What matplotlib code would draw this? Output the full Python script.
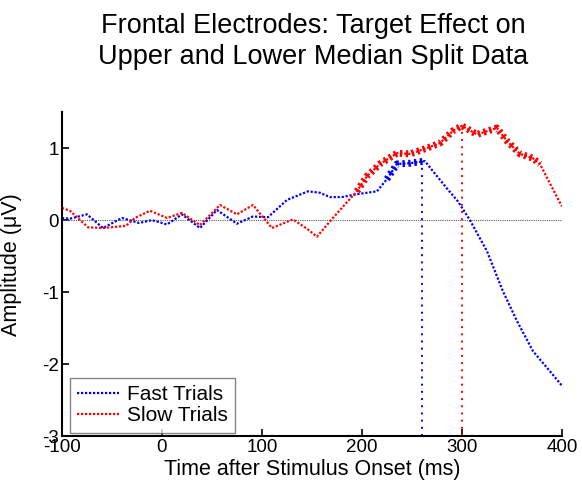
import numpy as np
import matplotlib
matplotlib.use("Agg")
import matplotlib.pyplot as plt

plt.rcParams["font.family"] = ["Liberation Sans", "DejaVu Sans"]
plt.rcParams["axes.unicode_minus"] = False

# Fast trials (blue)
FAST_T = [-100, -92, -75, -59, -40, -23, -10, 5, 20, 38, 55, 75, 91, 106, 125, 146,
          158, 168, 180, 195, 215, 225, 235, 248, 263, 271, 285, 296, 308, 325, 341,
          355, 371, 388, 400]
FAST_V = [0.03, 0.02, 0.08, -0.11, 0.03, -0.04, 0.0, -0.06, 0.08, -0.11, 0.14, -0.05,
          0.05, 0.04, 0.28, 0.40, 0.38, 0.32, 0.32, 0.36, 0.40, 0.57, 0.78, 0.79, 0.82,
          0.68, 0.44, 0.26, 0.0, -0.43, -0.99, -1.40, -1.82, -2.10, -2.30]

# Slow trials (red)
SLOW_T = [-100, -92, -74, -59, -36, -27, -12, 5, 20, 38, 58, 75, 91, 110, 131, 145,
          155, 171, 185, 195, 205, 218, 235, 248, 265, 278, 291, 300, 315, 335, 345,
          358, 371, 378, 388, 400]
SLOW_V = [0.17, 0.13, -0.10, -0.11, -0.08, 0.03, 0.13, 0.03, 0.10, -0.07, 0.21, 0.08,
          0.21, -0.11, 0.01, -0.12, -0.23, 0.03, 0.25, 0.40, 0.61, 0.78, 0.93, 0.92,
          1.00, 1.07, 1.24, 1.31, 1.19, 1.28, 1.10, 0.92, 0.86, 0.78, 0.51, 0.19]

# significant windows and peak latencies
FAST_SIG = (222, 265)
SLOW_SIG = (195, 380)
FAST_PEAK = 260
SLOW_PEAK = 300

fig = plt.figure(figsize=(5.82, 4.87), dpi=100)
ax = fig.add_axes([0.1065, 0.1047, 0.859, 0.665])

fast_t = np.array(FAST_T)
fast_v = np.array(FAST_V)
slow_t = np.array(SLOW_T)
slow_v = np.array(SLOW_V)

ax.plot([-100, 400], [0, 0], color="0.35", linewidth=0.8, dashes=(1, 1))
ax.plot([FAST_PEAK, FAST_PEAK], [-3, 0.82], color="blue", linewidth=1.4, dashes=(1, 2.7))
ax.plot([SLOW_PEAK, SLOW_PEAK], [-3, 1.31], color="red", linewidth=1.4, dashes=(1, 2.7))

ax.plot(fast_t, fast_v, color="blue", linewidth=1.6, dashes=(1, 0.8), label="Fast Trials")
ax.plot(slow_t, slow_v, color="red", linewidth=1.6, dashes=(1, 0.8), label="Slow Trials")

m = (fast_t >= FAST_SIG[0]) & (fast_t <= FAST_SIG[1])
ax.plot(fast_t[m], fast_v[m], color="blue", linewidth=5, dashes=(0.35, 0.5))
m = (slow_t >= SLOW_SIG[0]) & (slow_t <= SLOW_SIG[1])
ax.plot(slow_t[m], slow_v[m], color="red", linewidth=5, dashes=(0.35, 0.5))

ax.set_xlim(-100, 400)
ax.set_ylim(-3, 1.5)
ax.set_xticks([-100, 0, 100, 200, 300, 400])
ax.set_yticks([-3, -2, -1, 0, 1])
ax.tick_params(direction="in", labelsize=13.5, length=5, width=1.2, pad=2)
for side in ["top", "right"]:
    ax.spines[side].set_visible(False)
for side in ["left", "bottom"]:
    ax.spines[side].set_linewidth(1.5)

ax.set_xlabel("Time after Stimulus Onset (ms)", fontsize=15.5, labelpad=2)
ax.set_ylabel("Amplitude (\u03bcV)", fontsize=15.5)
ax.yaxis.set_label_coords(-0.08, 0.53)

leg = ax.legend(loc="lower left", fontsize=15, frameon=True, fancybox=False,
                handlelength=2.0, handletextpad=0.4, borderpad=0.35, labelspacing=0.12,
                borderaxespad=0, bbox_to_anchor=(0.016, 0.01))
leg.get_frame().set_edgecolor("0.4")
leg.get_frame().set_linewidth(1.0)

fig.text(0.538, 1 - 33 / 487, "Frontal Electrodes: Target Effect on", fontsize=19.5,
         ha="center", va="baseline")
fig.text(0.538, 1 - 64 / 487, "Upper and Lower Median Split Data", fontsize=19.5,
         ha="center", va="baseline")

fig.savefig("out.png", dpi=100)
